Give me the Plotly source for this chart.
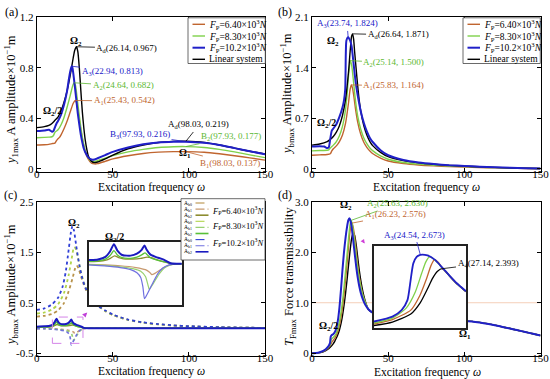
import plotly.graph_objects as go

W, H = 550, 379
FONT = "Liberation Serif"

# ---------------- data: panel (a)  y1max amplitude ----------------
a_x_black = [0, 5, 8, 10, 12, 14, 16, 18, 20, 22, 24, 25, 26.14, 27, 28, 29, 30, 31, 32, 33, 34, 36, 38, 40, 45, 50, 60, 70, 80, 90, 98.03, 110, 120, 130, 140, 150]
a_y_black = [0.327, 0.335, 0.345, 0.36, 0.385, 0.41, 0.46, 0.53, 0.62, 0.74, 0.88, 0.94, 0.967, 0.93, 0.80, 0.62, 0.45, 0.32, 0.22, 0.15, 0.10, 0.06, 0.05, 0.055, 0.08, 0.11, 0.16, 0.19, 0.21, 0.218, 0.219, 0.21, 0.19, 0.165, 0.14, 0.118]
a_x_blue = [0, 5, 8, 10, 11, 12, 13, 14, 16, 18, 20, 21, 22, 22.94, 23.5, 24, 25, 26, 27, 28, 29, 30, 31, 32, 34, 36, 38, 40, 45, 50, 60, 70, 80, 90, 97.93, 110, 120, 130, 140, 150]
a_y_blue = [0.30, 0.305, 0.31, 0.295, 0.30, 0.33, 0.36, 0.38, 0.43, 0.51, 0.62, 0.70, 0.77, 0.813, 0.80, 0.76, 0.66, 0.55, 0.44, 0.35, 0.27, 0.21, 0.16, 0.13, 0.09, 0.075, 0.075, 0.085, 0.11, 0.135, 0.17, 0.195, 0.21, 0.215, 0.216, 0.207, 0.19, 0.165, 0.14, 0.116]
a_x_green = [0, 5, 8, 10, 11, 12, 13, 14, 16, 18, 20, 22, 23, 24, 24.64, 25.5, 26, 27, 28, 29, 30, 31, 32, 34, 36, 38, 40, 45, 50, 60, 70, 80, 90, 97.93, 110, 120, 130, 140, 150]
a_y_green = [0.247, 0.25, 0.252, 0.255, 0.265, 0.29, 0.30, 0.31, 0.35, 0.41, 0.49, 0.58, 0.63, 0.67, 0.682, 0.66, 0.62, 0.52, 0.42, 0.33, 0.25, 0.19, 0.14, 0.085, 0.06, 0.06, 0.065, 0.085, 0.105, 0.135, 0.155, 0.17, 0.176, 0.177, 0.17, 0.155, 0.135, 0.112, 0.09]
a_x_brown = [0, 5, 8, 10, 12, 13, 14, 15, 16, 18, 20, 22, 24, 25.43, 26, 27, 28, 29, 30, 31, 32, 34, 36, 38, 40, 45, 50, 60, 70, 80, 90, 98.03, 110, 120, 130, 140, 150]
a_y_brown = [0.19, 0.192, 0.195, 0.20, 0.205, 0.225, 0.24, 0.25, 0.27, 0.32, 0.38, 0.45, 0.52, 0.542, 0.53, 0.47, 0.39, 0.31, 0.24, 0.18, 0.13, 0.075, 0.045, 0.04, 0.042, 0.06, 0.08, 0.105, 0.123, 0.133, 0.137, 0.137, 0.132, 0.12, 0.105, 0.088, 0.07]

# ---------------- data: panel (b)  ybmax amplitude ----------------
b_x_black = [0, 5, 10, 12, 14, 16, 18, 20, 22, 24, 25, 26, 26.64, 27.3, 28, 29, 30, 31, 32, 34, 36, 38, 40, 45, 50, 60, 70, 80, 90, 100, 110, 120, 130, 140, 150]
b_y_black = [0.33, 0.345, 0.38, 0.41, 0.45, 0.51, 0.60, 0.74, 0.96, 1.35, 1.62, 1.84, 1.871, 1.80, 1.62, 1.38, 1.15, 0.95, 0.80, 0.60, 0.47, 0.38, 0.32, 0.23, 0.17, 0.115, 0.085, 0.065, 0.05, 0.04, 0.03, 0.022, 0.015, 0.01, 0.006]
b_x_blue = [0, 5, 8, 10, 11, 12, 13, 14, 16, 18, 20, 21, 21.8, 22.2, 22.6, 23.74, 25, 26, 27, 28, 29, 30, 32, 34, 36, 38, 40, 45, 50, 60, 70, 80, 90, 100, 110, 120, 130, 140, 150]
b_y_blue = [0.31, 0.315, 0.31, 0.29, 0.30, 0.42, 0.53, 0.56, 0.62, 0.72, 0.85, 0.95, 1.10, 1.60, 1.78, 1.824, 1.78, 1.70, 1.52, 1.32, 1.15, 1.02, 0.80, 0.64, 0.52, 0.43, 0.37, 0.26, 0.19, 0.125, 0.09, 0.068, 0.052, 0.042, 0.032, 0.024, 0.016, 0.011, 0.007]
b_x_green = [0, 5, 10, 11, 12, 13, 14, 16, 18, 20, 22, 23, 24, 25.14, 26, 27, 28, 29, 30, 32, 34, 36, 38, 40, 45, 50, 60, 70, 80, 90, 100, 110, 120, 130, 140, 150]
b_y_green = [0.25, 0.255, 0.26, 0.265, 0.29, 0.31, 0.33, 0.38, 0.46, 0.59, 0.82, 1.02, 1.30, 1.500, 1.44, 1.26, 1.05, 0.87, 0.73, 0.55, 0.43, 0.35, 0.29, 0.25, 0.18, 0.135, 0.09, 0.067, 0.052, 0.041, 0.033, 0.025, 0.018, 0.012, 0.008, 0.005]
b_x_brown = [0, 5, 10, 12, 13, 14, 16, 18, 20, 22, 24, 25, 25.83, 26.5, 27.5, 28.5, 30, 32, 34, 36, 38, 40, 45, 50, 60, 70, 80, 90, 100, 110, 120, 130, 140, 150]
b_y_brown = [0.19, 0.195, 0.20, 0.21, 0.25, 0.28, 0.32, 0.38, 0.47, 0.63, 0.92, 1.10, 1.164, 1.13, 1.00, 0.84, 0.65, 0.48, 0.37, 0.30, 0.25, 0.21, 0.15, 0.11, 0.075, 0.055, 0.043, 0.034, 0.027, 0.02, 0.015, 0.01, 0.007, 0.004]

# ---------------- data: panel (c)  harmonic components ----------------
c_x_b0_blue = [0, 5, 10, 14, 17, 19, 21, 22.5, 23.5, 24.5, 26, 28, 30, 32, 35, 40, 45, 50, 60, 70, 80, 90, 100, 120, 150]
c_y_b0_blue = [0.36, 0.39, 0.47, 0.60, 0.82, 1.10, 1.55, 1.90, 2.02, 1.93, 1.62, 1.25, 0.98, 0.80, 0.62, 0.45, 0.35, 0.27, 0.17, 0.115, 0.08, 0.055, 0.04, 0.02, 0.005]
c_x_b0_green = [0, 5, 10, 14, 18, 21, 23, 24.5, 25.5, 27, 29, 31, 34, 38, 45, 50, 60, 70, 80, 90, 100, 120, 150]
c_y_b0_green = [0.29, 0.31, 0.37, 0.47, 0.70, 1.05, 1.38, 1.60, 1.58, 1.40, 1.12, 0.90, 0.68, 0.50, 0.34, 0.26, 0.165, 0.11, 0.075, 0.052, 0.037, 0.018, 0.005]
c_x_b0_brown = [0, 5, 10, 14, 18, 21, 23.5, 25, 26.2, 27.5, 29, 31, 34, 38, 45, 50, 60, 70, 80, 90, 100, 120, 150]
c_y_b0_brown = [0.23, 0.245, 0.28, 0.35, 0.50, 0.73, 0.98, 1.16, 1.24, 1.18, 1.03, 0.86, 0.66, 0.50, 0.34, 0.26, 0.165, 0.11, 0.075, 0.052, 0.037, 0.018, 0.005]

c_x_b1_blue = [0, 5, 10, 15, 18.3, 20.3, 21.5, 22.2, 22.7, 23.5, 24.5, 25.7, 27, 28.5, 30.5, 33, 40, 150]
c_y_b1_blue = [-0.008, -0.01, -0.02, -0.035, -0.055, -0.085, -0.13, -0.22, -0.33, -0.29, -0.23, -0.16, -0.09, -0.04, -0.01, 0, 0, 0]
c_x_b1_green = [0, 5, 10, 15, 19, 21.5, 23, 23.8, 24.2, 25, 26.2, 27.5, 29, 31, 33, 40, 150]
c_y_b1_green = [-0.006, -0.008, -0.015, -0.028, -0.045, -0.07, -0.12, -0.2, -0.243, -0.21, -0.15, -0.09, -0.04, -0.01, 0, 0, 0]
c_x_b1_brown = [0, 5, 10, 15, 20, 23, 24.3, 25, 26, 27.5, 29.5, 31.5, 34, 40, 150]
c_y_b1_brown = [-0.004, -0.005, -0.01, -0.018, -0.035, -0.055, -0.08, -0.102, -0.09, -0.06, -0.025, -0.005, 0, 0, 0]

c_x_b2_blue = [0, 5, 7.95, 10.3, 11.8, 13.0, 14.1, 15.6, 18.3, 20.3, 21.8, 22.7, 23.3, 24.5, 26.2, 28.6, 31, 34.5, 40, 150]
c_y_b2_blue = [0.03, 0.036, 0.042, 0.066, 0.12, 0.186, 0.126, 0.084, 0.078, 0.096, 0.132, 0.174, 0.138, 0.09, 0.066, 0.042, 0.006, 0, 0, 0]
c_x_b2_green = [0, 5, 8, 10.3, 11.8, 13, 14.1, 15.6, 18.3, 20.3, 21.8, 22.9, 23.6, 24.7, 26.5, 28.6, 31, 34.5, 40, 150]
c_y_b2_green = [0.02, 0.024, 0.028, 0.045, 0.08, 0.125, 0.085, 0.058, 0.052, 0.064, 0.085, 0.105, 0.085, 0.055, 0.038, 0.022, 0.004, 0, 0, 0]
c_x_b2_brown = [0, 5, 8, 10.5, 12, 13.2, 14.5, 16, 19, 21.5, 23.5, 24.8, 26.5, 28.6, 31, 34.5, 40, 150]
c_y_b2_brown = [0.018, 0.022, 0.024, 0.035, 0.055, 0.075, 0.06, 0.048, 0.046, 0.052, 0.064, 0.058, 0.04, 0.022, 0.005, 0, 0, 0]

# ---------------- data: panel (d)  force transmissibility ----------------
d_tail_x = [37, 40, 43, 46, 50, 55, 60, 70, 80, 90, 100, 105, 110, 115, 120, 125, 130, 135, 140, 145, 150]
d_tail_y = [0.87, 0.80, 0.76, 0.73, 0.70, 0.67, 0.65, 0.635, 0.635, 0.64, 0.64, 0.63, 0.61, 0.585, 0.555, 0.52, 0.49, 0.455, 0.42, 0.385, 0.35]
d_x_blue = [0, 4, 7, 9, 10, 11, 11.8, 12.3, 13, 14, 15, 16, 17, 18, 19, 20, 21, 22, 23, 23.8, 24.54, 25.3, 26, 27, 28, 29, 30, 31, 32, 33, 34, 35]
d_y_blue = [0, 0.01, 0.04, 0.08, 0.11, 0.15, 0.2, 0.33, 0.36, 0.38, 0.42, 0.5, 0.65, 0.9, 1.25, 1.65, 2.0, 2.28, 2.5, 2.63, 2.673, 2.62, 2.5, 2.25, 1.98, 1.72, 1.5, 1.33, 1.2, 1.1, 1.02, 0.96]
d_x_green = [0, 4, 7, 9, 10, 11, 12, 12.6, 13.5, 14.5, 16, 17, 18, 19, 20, 21, 22, 23, 24, 25, 25.63, 26.3, 27, 28, 29, 30, 31, 32, 33, 34, 35]
d_y_green = [0, 0.008, 0.035, 0.07, 0.1, 0.13, 0.17, 0.27, 0.3, 0.33, 0.4, 0.5, 0.62, 0.8, 1.02, 1.3, 1.62, 1.95, 2.28, 2.55, 2.63, 2.58, 2.45, 2.2, 1.93, 1.68, 1.48, 1.32, 1.19, 1.09, 1.01]
d_x_brown = [0, 4, 7, 9, 10, 11, 12, 13, 14, 15, 16, 17, 18, 19, 20, 21, 22, 23, 24, 25, 26.23, 27, 28, 29, 30, 31, 32, 33, 34, 35]
d_y_brown = [0, 0.007, 0.03, 0.06, 0.09, 0.12, 0.15, 0.22, 0.26, 0.3, 0.36, 0.44, 0.55, 0.7, 0.9, 1.15, 1.45, 1.78, 2.12, 2.42, 2.576, 2.5, 2.3, 2.03, 1.75, 1.52, 1.35, 1.2, 1.09, 1.0]
d_x_black = [0, 4, 7, 9, 10, 11, 12, 13, 14, 15, 16, 17, 18, 19, 20, 21, 22, 23, 24, 25, 26, 27.14, 28, 29, 30, 31, 32, 33, 34, 35]
d_y_black = [0, 0.006, 0.025, 0.05, 0.07, 0.09, 0.12, 0.15, 0.19, 0.24, 0.3, 0.37, 0.46, 0.58, 0.74, 0.94, 1.18, 1.45, 1.75, 2.03, 2.27, 2.393, 2.33, 2.15, 1.9, 1.65, 1.45, 1.28, 1.14, 1.03]
d_ref_level = 1.0

# inset of (d): peak region
di_x_blue = [19, 21.2, 22.3, 23.0, 23.4, 23.7, 24.1, 24.54, 25.4, 26.3, 27.14, 28, 28.9, 30]
di_y_blue = [1.33, 1.43, 1.56, 1.76, 2.19, 2.5, 2.63, 2.673, 2.66, 2.57, 2.42, 2.26, 2.1, 1.94]
di_x_green = [19, 21.2, 22.85, 23.95, 24.7, 25.2, 25.63, 26.3, 27.14, 28, 28.9, 30]
di_y_green = [1.30, 1.40, 1.60, 1.93, 2.3, 2.53, 2.63, 2.565, 2.415, 2.257, 2.097, 1.937]
di_x_brown = [19, 21.2, 23.4, 24.5, 25.3, 25.8, 26.23, 26.7, 27.14, 28, 28.9, 30]
di_y_brown = [1.28, 1.37, 1.56, 1.86, 2.2, 2.45, 2.576, 2.52, 2.41, 2.255, 2.095, 1.935]
di_x_black = [19, 21.2, 23.4, 24.5, 25.4, 26.0, 26.6, 27.14, 27.6, 28, 28.9, 30]
di_y_black = [1.25, 1.32, 1.48, 1.7, 1.99, 2.2, 2.34, 2.393, 2.34, 2.25, 2.09, 1.93]

x_ticks = [0, 50, 100, 150]
a_ticks = [0, 0.4, 0.8, 1.2]; a_ticktext = ["0", "0.4", "0.8", "1.2"]
b_ticks = [0, 0.7, 1.4, 2.1]; b_ticktext = ["0", "0.7", "1.4", "2.1"]
c_ticks = [-0.5, 0.5, 1.5, 2.5]; c_ticktext = ["-0.5", "0.5", "1.5", "2.5"]
d_ticks = [0, 1, 2, 3]; d_ticktext = ["0", "1.0", "2.0", "3.0"]

force_names = ["<i>F</i><sub>P</sub>=6.40×10<sup>3</sup><i>N</i>",
               "<i>F</i><sub>P</sub>=8.30×10<sup>3</sup><i>N</i>",
               "<i>F</i><sub>P</sub>=10.2×10<sup>3</sup><i>N</i>",
               "Linear system"]

# ---------------- styles ----------------
C_BROWN, C_GREEN, C_BLUE, C_BLACK = "#c0652f", "#7fd14a", "#2020c8", "#000000"
C_GTXT = "#5cb832"
C_B0 = ["#b8924a", "#b0d44a", "#2f3fd6"]
C_B1 = ["#c89a70", "#98d070", "#7070e0"]
C_B2 = ["#8c8c30", "#58c038", "#1a1ac0"]
W_MAIN = [1.4, 1.4, 2.0, 1.4]


def px_x(p):
    return p / W


def px_y(p):
    return 1 - p / H


XD_L = [px_x(36.7), px_x(265)]
XD_R = [px_x(312), px_x(540.5)]
YD_T = [px_y(171.5), px_y(17.3)]
YD_B = [px_y(355.5), px_y(201.7)]

fig = go.Figure()


def add(x, y, ax, color, width, dash="solid", shape="spline"):
    fig.add_trace(go.Scatter(x=x, y=y, mode="lines", xaxis="x" + ax, yaxis="y" + ax,
                             line=dict(color=color, width=width, dash=dash, shape=shape, smoothing=0.6),
                             showlegend=False, hoverinfo="skip"))


# (a)
add(a_x_brown, a_y_brown, "", C_BROWN, W_MAIN[0])
add(a_x_green, a_y_green, "", C_GREEN, W_MAIN[1])
add(a_x_black, a_y_black, "", C_BLACK, W_MAIN[3])
add(a_x_blue, a_y_blue, "", C_BLUE, W_MAIN[2])
# (b)
add(b_x_brown, b_y_brown, "2", C_BROWN, W_MAIN[0])
add(b_x_green, b_y_green, "2", C_GREEN, W_MAIN[1])
add(b_x_black, b_y_black, "2", C_BLACK, W_MAIN[3])
add(b_x_blue, b_y_blue, "2", C_BLUE, W_MAIN[2])
# (c)
c_b0 = [(c_x_b0_brown, c_y_b0_brown), (c_x_b0_green, c_y_b0_green), (c_x_b0_blue, c_y_b0_blue)]
c_b1 = [(c_x_b1_brown, c_y_b1_brown), (c_x_b1_green, c_y_b1_green), (c_x_b1_blue, c_y_b1_blue)]
c_b2 = [(c_x_b2_brown, c_y_b2_brown), (c_x_b2_green, c_y_b2_green), (c_x_b2_blue, c_y_b2_blue)]
for i, (x, y) in enumerate(c_b0):
    add(x, y, "3", C_B0[i], 1.8, "dot")
for i, (x, y) in enumerate(c_b1):
    add(x, y, "3", C_B1[i], 1.6, "dot")
for i, (x, y) in enumerate(c_b2):
    add(x, y, "3", C_B2[i], 2.0 if i == 2 else 1.5)
# (d)
fig.add_trace(go.Scatter(x=[0, 150], y=[d_ref_level, d_ref_level], mode="lines", xaxis="x4", yaxis="y4",
                         line=dict(color="#f2c4a8", width=0.8), showlegend=False, hoverinfo="skip"))
add(d_x_black + d_tail_x, d_y_black + d_tail_y, "4", C_BLACK, 1.4)
add(d_x_brown + d_tail_x, d_y_brown + d_tail_y, "4", C_BROWN, 1.4)
add(d_x_green + d_tail_x, d_y_green + d_tail_y, "4", C_GREEN, 1.4)
add(d_x_blue + d_tail_x, d_y_blue + d_tail_y, "4", C_BLUE, 2.0)
# inset (c)
for i, (x, y) in enumerate(c_b1):
    add(x, y, "5", C_B1[i], 1.2)
for i, (x, y) in enumerate(c_b2):
    add(x, y, "5", C_B2[i], 2.0 if i == 2 else 1.3)
# inset (d)
add(di_x_black, di_y_black, "6", C_BLACK, 1.3)
add(di_x_brown, di_y_brown, "6", C_BROWN, 1.3)
add(di_x_green, di_y_green, "6", C_GREEN, 1.3)
add(di_x_blue, di_y_blue, "6", C_BLUE, 1.8)

tickfont = dict(family=FONT, size=11, color="black")
base = dict(showline=True, linecolor="black", linewidth=1, mirror="ticks", ticks="inside", ticklen=4,
            tickcolor="black", showgrid=False, zeroline=False, tickfont=tickfont, automargin=False)
inset = dict(showline=True, linecolor="#222", linewidth=1.5, mirror=True, ticks="", showticklabels=False,
             showgrid=False, zeroline=False, automargin=False)
xb = dict(base, ticklabelstandoff=-8)

fig.update_layout(
    width=W, height=H, margin=dict(l=0, r=0, t=0, b=0, pad=0, autoexpand=False), autosize=False,
    paper_bgcolor="white", plot_bgcolor="white", showlegend=False,
    font=dict(family=FONT, color="black"),
    xaxis=dict(xb, domain=XD_L, range=[0, 150], tickvals=x_ticks, anchor="y"),
    yaxis=dict(base, domain=YD_T, range=[-0.02, 1.2], tickvals=a_ticks, ticktext=a_ticktext, anchor="x"),
    xaxis2=dict(xb, domain=XD_R, range=[0, 150], tickvals=x_ticks, anchor="y2"),
    yaxis2=dict(base, domain=YD_T, range=[-0.035, 2.1], tickvals=b_ticks, ticktext=b_ticktext, anchor="x2"),
    xaxis3=dict(xb, domain=XD_L, range=[0, 150], tickvals=x_ticks, anchor="y3"),
    yaxis3=dict(base, domain=YD_B, range=[-0.54, 2.5], tickvals=c_ticks, ticktext=c_ticktext, anchor="x3"),
    xaxis4=dict(xb, domain=XD_R, range=[0, 150], tickvals=x_ticks, anchor="y4"),
    yaxis4=dict(base, domain=YD_B, range=[-0.045, 3.0], tickvals=d_ticks, ticktext=d_ticktext, anchor="x4"),
    xaxis5=dict(inset, domain=[px_x(88.7), px_x(181.7)], range=[5, 34.5], anchor="y5"),
    yaxis5=dict(inset, domain=[px_y(305), px_y(241.7)], range=[-0.39, 0.21], anchor="x5"),
    xaxis6=dict(inset, domain=[px_x(374), px_x(466)], range=[19, 30], anchor="y6"),
    yaxis6=dict(inset, domain=[px_y(328), px_y(246)], range=[1.2, 2.85], anchor="x6"),
)

ann = []
shapes = []


def txt(text, x, y, xr, yr, size=10, color="black", xanchor="center", yanchor="middle", **kw):
    ann.append(dict(text=text, x=x, y=y, xref=xr, yref=yr, showarrow=False, xanchor=xanchor, yanchor=yanchor,
                    font=dict(family=FONT, size=size, color=color), **kw))


def arr(text, x, y, tx, ty, r, color, size=9):
    ann.append(dict(text=text, x=x, y=y, ax=tx, ay=ty, xref="x" + r, yref="y" + r, axref="x" + r, ayref="y" + r,
                    showarrow=True, arrowhead=0, arrowwidth=0.8, arrowcolor=color,
                    xanchor="center", yanchor="middle",
                    font=dict(family=FONT, size=size, color=color)))


# panel labels
for lab, (x, y) in zip(["(a)", "(b)", "(c)", "(d)"], [(11, 12), (285, 12), (10, 195), (285, 195)]):
    txt(lab, px_x(x), px_y(y), "paper", "paper", size=12)

# axis titles
XT = "Excitation frequency <i>ω</i>"
for (x, y) in [(151, 187), (426, 187), (151, 371.5), (427, 372)]:
    txt(XT, px_x(x), px_y(y), "paper", "paper", size=11.5)
txt("<i>y</i><sub>1max</sub> A amplitude×10<sup>−1</sup>m", px_x(11), px_y(100), "paper", "paper", size=12.5, textangle=-90)
txt("<i>y</i><sub>bmax</sub> Amplitude×10<sup>−1</sup>m", px_x(287), px_y(94), "paper", "paper", size=12.5, textangle=-90)
txt("<i>y</i><sub>bmax</sub> Amplitude×10<sup>−1</sup>m", px_x(11), px_y(285), "paper", "paper", size=12.5, textangle=-90)
txt("<i>T</i><sub>Fmax</sub> Force transmissibility", px_x(290), px_y(277), "paper", "paper", size=12.5, textangle=-90)

# (a) annotations
txt("<b>Ω<sub>2</sub></b>", 25.8, 1.005, "x", "y", size=10)
txt("<b>Ω<sub>2</sub>/2</b>", 10.7, 0.451, "x", "y", size=10)
txt("<b>Ω<sub>1</sub></b>", 97.4, 0.119, "x", "y", size=10)
arr("A<sub>d</sub>(26.14, 0.967)", a_x_black[12], a_y_black[12], 59.3, 0.957, "", C_BLACK)
arr("A<sub>3</sub>(22.94, 0.813)", a_x_blue[13], a_y_blue[13], 49.5, 0.775, "", C_BLUE)
arr("A<sub>2</sub>(24.64, 0.682)", a_x_green[14], a_y_green[14], 56.7, 0.657, "", C_GTXT)
arr("A<sub>1</sub>(25.43, 0.542)", a_x_brown[13], a_y_brown[13], 57.4, 0.538, "", C_BROWN)
arr("A<sub>d</sub>(98.03, 0.219)", a_x_black[30], a_y_black[30], 106.6, 0.348, "", C_BLACK)
arr("B<sub>3</sub>(97.93, 0.216)", a_x_blue[34], a_y_blue[34], 67.9, 0.269, "", C_BLUE)
arr("B<sub>2</sub>(97.93, 0.177)", a_x_green[33], a_y_green[33], 127.7, 0.253, "", C_GTXT)
arr("B<sub>1</sub>(98.03, 0.137)", a_x_brown[31], a_y_brown[31], 127.0, 0.047, "", C_BROWN)

# (b) annotations
txt("<b>Ω<sub>2</sub></b>", 13.8, 1.759, "x2", "y2", size=10)
txt("<b>Ω<sub>2</sub>/2</b>", 9.8, 0.623, "x2", "y2", size=10)
arr("A<sub>3</sub>(23.74, 1.824)", b_x_blue[15], b_y_blue[15], 23.0, 2.008, "2", C_BLUE)
arr("A<sub>d</sub>(26.64, 1.871)", b_x_black[12], b_y_black[12], 56.5, 1.856, "2", C_BLACK)
arr("A<sub>2</sub>(25.14, 1.500)", b_x_green[13], b_y_green[13], 53.8, 1.468, "2", C_GTXT)
arr("A<sub>1</sub>(25.83, 1.164)", b_x_brown[12], b_y_brown[12], 53.8, 1.150, "2", C_BROWN)

# (c) annotations
txt("<b>Ω<sub>2</sub></b>", 24.5, 2.075, "x3", "y3", size=10)
txt("<b>Ω<sub>2</sub>/2</b>", 51.4, 1.79, "x3", "y3", size=10)
shapes.append(dict(type="rect", xref="x3", yref="y3", x0=10.3, x1=30.4, y0=-0.3, y1=0.22,
                   line=dict(color="#d484e8", width=1, dash="dash")))
ann.append(dict(text="", x=33.2, y=0.31, ax=30.6, ay=0.23, xref="x3", yref="y3", axref="x3", ayref="y3",
                showarrow=True, arrowhead=2, arrowsize=0.8, arrowwidth=1.2, arrowcolor="#c040d8"))

# (d) annotations
txt("<b>Ω<sub>2</sub></b>", 22.3, 2.93, "x4", "y4", size=10)
txt("<b>Ω<sub>2</sub>/2</b>", 10.5, 0.52, "x4", "y4", size=10)
txt("<b>Ω<sub>1</sub></b>", 100.2, 0.38, "x4", "y4", size=10)
arr("A<sub>2</sub>(25.63, 2.630)", d_x_green[20], d_y_green[20], 56.0, 2.955, "4", C_GTXT)
arr("A<sub>1</sub>(26.23, 2.576)", d_x_brown[20], d_y_brown[20], 54.5, 2.74, "4", C_BROWN)
arr("A<sub>3</sub>(24.54, 2.673)", di_x_blue[7], di_y_blue[7], 23.9, 3.07, "6", C_BLUE)
arr("A<sub>4</sub>(27.14, 2.393)", di_x_black[7], di_y_black[7], 32.63, 2.508, "6", C_BLACK)
ann.append(dict(text="", x=34.6, y=2.17, ax=33.0, ay=2.24, xref="x4", yref="y4", axref="x4", ayref="y4",
                showarrow=True, arrowhead=2, arrowsize=0.7, arrowwidth=1.2, arrowcolor="#d040d8"))

# legends (a) and (b)
main_cols = [C_BROWN, C_GREEN, C_BLUE, C_BLACK]
rows = [24.3, 36, 47.7, 59.3]
for x0 in [188, 463]:
    shapes.append(dict(type="rect", xref="paper", yref="paper", x0=px_x(x0), x1=px_x(x0 + 77.3),
                       y0=px_y(63.5), y1=px_y(17.8), line=dict(color="#444", width=0.8), fillcolor="white"))
    for name, col, w, ry in zip(force_names, main_cols, W_MAIN, rows):
        shapes.append(dict(type="line", xref="paper", yref="paper", x0=px_x(x0 + 4.5), x1=px_x(x0 + 17),
                           y0=px_y(ry), y1=px_y(ry), line=dict(color=col, width=w)))
        txt(name, px_x(x0 + 19), px_y(ry), "paper", "paper", size=9.5, xanchor="left")

# legend (c)
shapes.append(dict(type="rect", xref="paper", yref="paper", x0=px_x(181), x1=px_x(265),
                   y0=px_y(260), y1=px_y(198.7), line=dict(color="#444", width=0.8), fillcolor="white"))
leg_rows = [203 + 6.1 * i for i in range(9)]
dashes = ["dash", "dashdot", "solid"]
comp = ["A<sub>b0</sub>", "A<sub>b1</sub>", "A<sub>b2</sub>"]
cols = [C_B0, C_B1, C_B2]
for g in range(3):
    for k in range(3):
        ry = leg_rows[3 * g + k]
        txt(comp[k], px_x(182), px_y(ry), "paper", "paper", size=5.5, xanchor="left")
        shapes.append(dict(type="line", xref="paper", yref="paper", x0=px_x(195.5), x1=px_x(208.5),
                           y0=px_y(ry), y1=px_y(ry),
                           line=dict(color=cols[k][g], width=1.6 if k == 2 else 1.1, dash=dashes[k])))
for name, ry in zip(force_names[:3], [210.7, 225.3, 242.3]):
    txt(name, px_x(210), px_y(ry), "paper", "paper", size=8.5, xanchor="left")

fig.update_layout(annotations=ann, shapes=shapes)
fig.write_html("out.html", config={"displayModeBar": False},
               post_script="document.body.style.margin='0px';document.body.style.overflow='hidden';")
